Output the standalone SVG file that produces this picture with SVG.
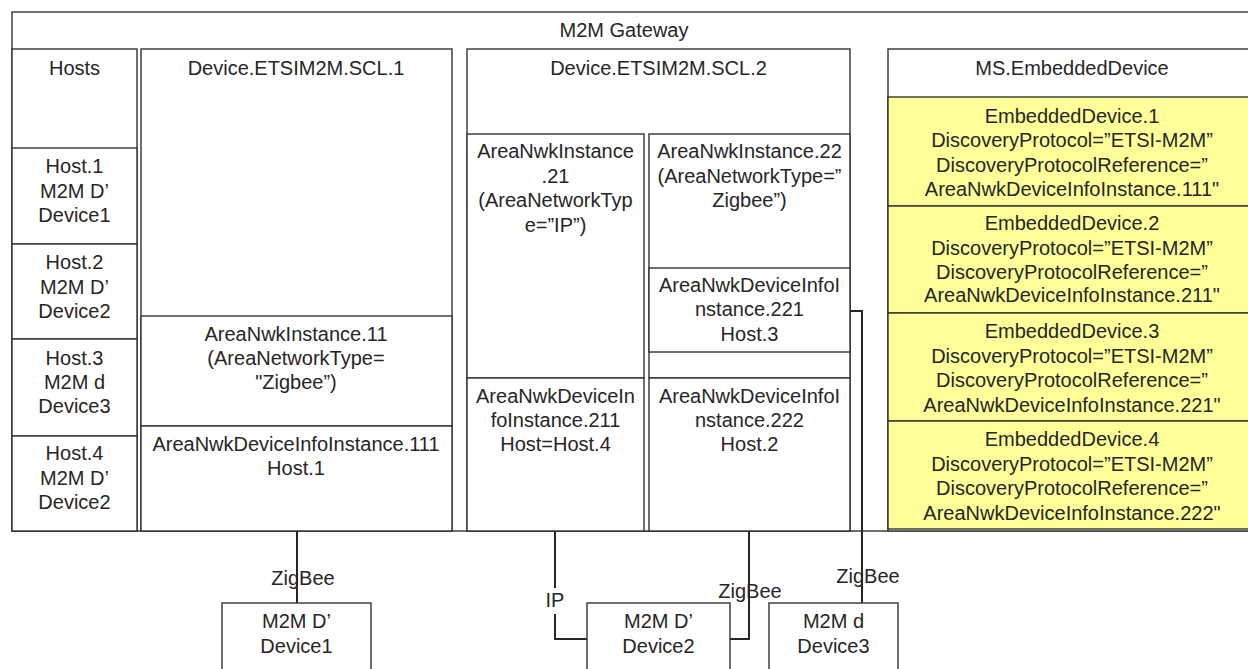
<svg xmlns="http://www.w3.org/2000/svg" width="1248" height="669" viewBox="0 0 1248 669">
<style>
  .box { fill: #ffffff; stroke: #333333; stroke-width: 1.4; }
  .ybox { fill: #ffff99; stroke: #333333; stroke-width: 1.4; }
  .t { font-family: "Liberation Sans", Arial, sans-serif; font-size: 20px; fill: #262626; text-anchor: middle; }
  .wire { fill: none; stroke: #262626; stroke-width: 2; }
</style>
<rect x="0" y="0" width="1248" height="669" fill="#ffffff"/>

<g id="gateway">
  <rect class="box" x="12" y="12" width="1260" height="519"/>
  <text class="t" x="624" y="37">M2M Gateway</text>
</g>

<g id="hosts">
  <rect class="box" x="12" y="49" width="125" height="482"/>
  <text class="t" x="74.5" y="75">Hosts</text>
</g>
<g id="host1">
  <rect class="box" x="12" y="148" width="125" height="96"/>
  <text class="t" x="74.5" y="173">Host.1</text>
  <text class="t" x="74.5" y="197.5">M2M D’</text>
  <text class="t" x="74.5" y="222">Device1</text>
</g>
<g id="host2">
  <rect class="box" x="12" y="244" width="125" height="95"/>
  <text class="t" x="74.5" y="269">Host.2</text>
  <text class="t" x="74.5" y="293.5">M2M D’</text>
  <text class="t" x="74.5" y="318">Device2</text>
</g>
<g id="host3">
  <rect class="box" x="12" y="339" width="125" height="97"/>
  <text class="t" x="74.5" y="365">Host.3</text>
  <text class="t" x="74.5" y="389">M2M d</text>
  <text class="t" x="74.5" y="413">Device3</text>
</g>
<g id="host4">
  <rect class="box" x="12" y="436" width="125" height="95"/>
  <text class="t" x="74.5" y="460">Host.4</text>
  <text class="t" x="74.5" y="485">M2M D’</text>
  <text class="t" x="74.5" y="509">Device2</text>
</g>

<g id="scl1">
  <rect class="box" x="141" y="49" width="311" height="482"/>
  <text class="t" x="296" y="75">Device.ETSIM2M.SCL.1</text>
</g>
<g id="ani11">
  <rect class="box" x="141" y="316" width="311" height="110"/>
  <text class="t" x="296" y="341">AreaNwkInstance.11</text>
  <text class="t" x="296" y="365">(AreaNetworkType=</text>
  <text class="t" x="296" y="389">"Zigbee”)</text>
</g>
<g id="andi111">
  <rect class="box" x="141" y="426" width="311" height="105"/>
  <text class="t" x="296" y="451">AreaNwkDeviceInfoInstance.111</text>
  <text class="t" x="296" y="475">Host.1</text>
</g>

<g id="scl2">
  <rect class="box" x="467" y="49" width="383" height="482"/>
  <text class="t" x="658.5" y="75">Device.ETSIM2M.SCL.2</text>
</g>
<g id="ani21">
  <rect class="box" x="467" y="134" width="177" height="244"/>
  <text class="t" x="555.5" y="158">AreaNwkInstance</text>
  <text class="t" x="555.5" y="182.5">.21</text>
  <text class="t" x="555.5" y="207">(AreaNetworkTyp</text>
  <text class="t" x="555.5" y="231.5">e=”IP”)</text>
</g>
<g id="andi211">
  <rect class="box" x="467" y="378" width="177" height="153"/>
  <text class="t" x="555.5" y="403">AreaNwkDeviceIn</text>
  <text class="t" x="555.5" y="427">foInstance.211</text>
  <text class="t" x="555.5" y="451">Host=Host.4</text>
</g>
<g id="ani22">
  <rect class="box" x="649" y="134" width="201" height="244"/>
  <text class="t" x="749.5" y="158">AreaNwkInstance.22</text>
  <text class="t" x="749.5" y="182.5">(AreaNetworkType=”</text>
  <text class="t" x="749.5" y="207">Zigbee”)</text>
</g>
<g id="andi221">
  <rect class="box" x="649" y="268" width="201" height="84"/>
  <text class="t" x="749.5" y="292">AreaNwkDeviceInfoI</text>
  <text class="t" x="749.5" y="316">nstance.221</text>
  <text class="t" x="749.5" y="341">Host.3</text>
</g>
<g id="andi222">
  <rect class="box" x="649" y="378" width="201" height="153"/>
  <text class="t" x="749.5" y="403">AreaNwkDeviceInfoI</text>
  <text class="t" x="749.5" y="427">nstance.222</text>
  <text class="t" x="749.5" y="451">Host.2</text>
</g>

<g id="msembedded">
  <rect class="box" x="888" y="49" width="380" height="482"/>
  <text class="t" x="1072" y="75">MS.EmbeddedDevice</text>
</g>
<g id="ed1">
  <rect class="ybox" x="888" y="97" width="380" height="109"/>
  <text class="t" x="1072" y="122.5">EmbeddedDevice.1</text>
  <text class="t" x="1072" y="147">DiscoveryProtocol=”ETSI-M2M”</text>
  <text class="t" x="1072" y="171.5">DiscoveryProtocolReference=”</text>
  <text class="t" x="1072" y="196">AreaNwkDeviceInfoInstance.111"</text>
</g>
<g id="ed2">
  <rect class="ybox" x="888" y="206" width="380" height="107"/>
  <text class="t" x="1072" y="230">EmbeddedDevice.2</text>
  <text class="t" x="1072" y="254.5">DiscoveryProtocol=”ETSI-M2M”</text>
  <text class="t" x="1072" y="278.5">DiscoveryProtocolReference=”</text>
  <text class="t" x="1072" y="302">AreaNwkDeviceInfoInstance.211"</text>
</g>
<g id="ed3">
  <rect class="ybox" x="888" y="313" width="380" height="108"/>
  <text class="t" x="1072" y="338">EmbeddedDevice.3</text>
  <text class="t" x="1072" y="362.5">DiscoveryProtocol=”ETSI-M2M”</text>
  <text class="t" x="1072" y="387">DiscoveryProtocolReference=”</text>
  <text class="t" x="1072" y="411.5">AreaNwkDeviceInfoInstance.221"</text>
</g>
<g id="ed4">
  <rect class="ybox" x="888" y="421" width="380" height="108"/>
  <text class="t" x="1072" y="446">EmbeddedDevice.4</text>
  <text class="t" x="1072" y="470.5">DiscoveryProtocol=”ETSI-M2M”</text>
  <text class="t" x="1072" y="495">DiscoveryProtocolReference=”</text>
  <text class="t" x="1072" y="519.5">AreaNwkDeviceInfoInstance.222"</text>
</g>

<g id="connectors">
  <path class="wire" d="M297 531 V603"/>
  <path class="wire" d="M555 531 V588 M555 614 V639 H587"/>
  <path class="wire" d="M749 531 V639 H730"/>
  <path class="wire" d="M850 311 H862 V603"/>
  <text class="t" x="303" y="585">ZigBee</text>
  <text class="t" x="555" y="607">IP</text>
  <text class="t" x="750" y="598">ZigBee</text>
  <text class="t" x="868" y="583">ZigBee</text>
</g>

<g id="device1">
  <rect class="box" x="222" y="603" width="149" height="80"/>
  <text class="t" x="296.5" y="628">M2M D’</text>
  <text class="t" x="296.5" y="652.5">Device1</text>
</g>
<g id="device2">
  <rect class="box" x="587" y="603" width="143" height="80"/>
  <text class="t" x="658.5" y="628">M2M D’</text>
  <text class="t" x="658.5" y="652.5">Device2</text>
</g>
<g id="device3">
  <rect class="box" x="769" y="603" width="129" height="80"/>
  <text class="t" x="833.5" y="628">M2M d</text>
  <text class="t" x="833.5" y="652.5">Device3</text>
</g>
</svg>
